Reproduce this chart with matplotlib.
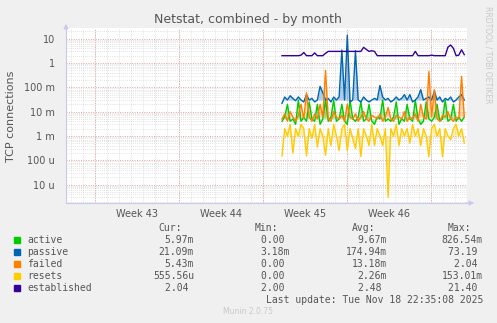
import numpy as np
import matplotlib
matplotlib.use("Agg")
import matplotlib.pyplot as plt
from matplotlib.patches import Rectangle

# munin month view: data only covers the last ~15 days
start_day = 18.0
step_day = 0.2267

established = [2.0, 2.0, 2.0, 2.0, 2.0, 2.0, 2.0, 2.1, 2.7, 2.0, 2.0, 2.0, 2.6, 2.0, 2.0, 2.0,
               2.5, 3.0, 3.0, 3.0, 3.0, 3.0, 3.0, 3.0, 3.0, 3.0, 3.0, 3.0, 3.0, 3.0, 4.4, 3.6,
               3.0, 3.2, 3.0, 2.0, 2.0, 2.0, 2.0, 2.0, 2.0, 2.0, 2.0, 2.0, 2.0, 2.0, 2.0, 2.0,
               2.0, 3.0, 2.0, 2.0, 2.0, 2.0, 2.0, 2.1, 2.0, 2.0, 2.0, 2.0, 2.0, 4.5, 5.5, 4.0,
               2.0, 2.1, 3.5, 2.2]
passive = [0.022, 0.04, 0.03, 0.045, 0.035, 0.028, 0.04, 0.03, 0.025, 0.05, 0.03, 0.035, 0.025,
           0.03, 0.11, 0.06, 0.03, 0.035, 0.025, 0.04, 0.03, 0.04, 3.4, 0.03, 14.0, 0.025, 0.03,
           3.2, 0.03, 0.025, 0.04, 0.03, 0.025, 0.03, 0.035, 0.03, 0.12, 0.04, 0.03, 0.035, 0.025,
           0.03, 0.04, 0.03, 0.035, 0.05, 0.03, 0.05, 0.025, 0.03, 0.04, 0.08, 0.03, 0.035, 0.04,
           0.03, 0.07, 0.03, 0.04, 0.025, 0.035, 0.03, 0.04, 0.025, 0.03, 0.04, 0.05, 0.03]
active = [0.004, 0.006, 0.02, 0.004, 0.005, 0.003, 0.03, 0.004, 0.006, 0.004, 0.025, 0.005,
          0.004, 0.02, 0.003, 0.005, 0.03, 0.004, 0.006, 0.03, 0.004, 0.005, 0.02, 0.004, 0.003,
          0.03, 0.005, 0.004, 0.006, 0.025, 0.004, 0.005, 0.02, 0.004, 0.003, 0.006, 0.005, 0.03,
          0.004, 0.005, 0.004, 0.006, 0.025, 0.003, 0.005, 0.004, 0.02, 0.005, 0.004, 0.03, 0.005,
          0.003, 0.004, 0.025, 0.005, 0.004, 0.006, 0.02, 0.004, 0.005, 0.03, 0.004, 0.005, 0.02,
          0.004, 0.006, 0.004, 0.006]
failed = [0.005, 0.008, 0.004, 0.01, 0.006, 0.004, 0.007, 0.02, 0.005, 0.06, 0.006, 0.004, 0.008,
          0.005, 0.02, 0.006, 0.5, 0.005, 0.004, 0.01, 0.006, 0.005, 0.007, 0.004, 0.02, 0.006,
          0.005, 0.008, 0.004, 0.006, 0.01, 0.005, 0.004, 0.007, 0.006, 0.005, 0.008, 0.004, 0.006,
          0.015, 0.005, 0.004, 0.007, 0.006, 0.005, 0.01, 0.004, 0.006, 0.005, 0.008, 0.004, 0.02,
          0.006, 0.005, 0.45, 0.006, 0.08, 0.005, 0.004, 0.007, 0.006, 0.01, 0.005, 0.004, 0.006,
          0.005, 0.28, 0.006]
resets = [1.5e-4, 0.002, 0.001, 0.003, 2e-4, 0.002, 0.001, 0.003, 0.002, 1.5e-4, 0.002, 0.0008,
          0.003, 3.5e-4, 0.002, 0.001, 1.6e-4, 0.002, 4e-4, 0.003, 0.001, 2.5e-4, 0.002, 0.003,
          2.5e-4, 0.002, 0.0008, 3e-4, 0.002, 1.4e-4, 0.002, 0.001, 4e-4, 0.003, 4e-4, 0.002, 0.001,
          4e-4, 0.002, 3e-6, 0.002, 0.001, 0.003, 4e-4, 0.002, 0.001, 0.002, 5e-4, 0.003, 0.001,
          0.002, 4e-4, 0.002, 0.001, 1.4e-4, 0.002, 0.003, 0.001, 0.002, 1.4e-4, 0.002, 0.001,
          7e-4, 0.002, 0.003, 0.001, 0.002, 5e-4]

names = ["active", "passive", "failed", "resets", "established"]
colors = ["#00CC00", "#0066B3", "#FF8000", "#FFCC00", "#330099"]
cur = ["5.97m", "21.09m", "5.43m", "555.56u", "2.04 "]
mins = ["0.00 ", "3.18m", "0.00 ", "0.00 ", "2.00 "]
avgs = ["9.67m", "174.94m", "13.18m", "2.26m", "2.48 "]
maxs = ["826.54m", "73.19 ", "2.04 ", "153.01m", "21.40 "]

week_starts = [2.42, 9.42, 16.42, 23.42, 30.42]
week_labels = ["Week 43", "Week 44", "Week 45", "Week 46"]
ytick_vals = [10, 1, 0.1, 0.01, 0.001, 1e-4, 1e-5]
ytick_labels = ["10", "1", "100 m", "10 m", "1 m", "100 u", "10 u"]

W, H = 497, 323
fig = plt.figure(figsize=(W / 100, H / 100), dpi=100, facecolor="#F0F0F0")
ax = fig.add_axes([66 / W, 1 - 203 / H, 401 / W, 175 / H])
ax.set_facecolor("white")

series = [active, passive, failed, resets, established]
x = start_day + step_day * np.arange(len(active))
for vals, c in zip(series, colors):
    v = np.array(vals)
    if c != colors[-1]:
        # light shading of spikes around the typical level, like the munin render
        ax.fill_between(x, v, np.median(v), color=c, alpha=0.3, lw=0)
    ax.plot(x, v, color=c, lw=1.0)

ax.set_yscale("log")
ax.set_ylim(1.74e-6, 27.5)
ax.set_xlim(0, 401 / 12)

# grid: grey dotted for days / minor decades, red dotted for weeks / decades
for d in np.arange(0.42, 33.4, 1.0):
    ax.axvline(d, color="#d8d8d8", lw=0.6, ls=(0, (1, 1.5)), zorder=0)
for d in week_starts:
    ax.axvline(d, color="#e8a0a0", lw=0.7, ls=(0, (1, 1.5)), zorder=0)
for e in range(-6, 2):
    for m in range(2, 10):
        ax.axhline(m * 10.0 ** e, color="#d8d8d8", lw=0.6, ls=(0, (1, 1.5)), zorder=0)
    ax.axhline(10.0 ** e, color="#e8a0a0", lw=0.7, ls=(0, (1, 1.5)), zorder=0)

ax.set_yticks(ytick_vals)
ax.set_yticklabels(ytick_labels)
ax.yaxis.set_minor_locator(matplotlib.ticker.NullLocator())
ax.set_xticks([w + 3.5 for w in week_starts[:4]])
ax.set_xticklabels(week_labels)
ax.tick_params(axis="both", length=0, labelsize=7, colors="#555555", pad=4)
ax.tick_params(axis="y", pad=8)

for s in ["top", "right"]:
    ax.spines[s].set_visible(False)
ax.spines["left"].set_color("#c8c8f0")
ax.spines["bottom"].set_color("#c8c8f0")

# axis arrows
ax.annotate("", xy=(0, 1.04), xytext=(0, 0.98), xycoords="axes fraction",
            arrowprops=dict(arrowstyle="-|>", color="#c8c8f0", lw=0.8, mutation_scale=7))
ax.annotate("", xy=(1.025, 0), xytext=(0.99, 0), xycoords="axes fraction",
            arrowprops=dict(arrowstyle="-|>", color="#c8c8f0", lw=0.8, mutation_scale=7))

fig.text(248 / W, 1 - 19 / H, "Netstat, combined - by month", ha="center", va="center",
         fontsize=9, color="#555555")
fig.text(11 / W, 1 - 116 / H, "TCP connections", rotation=90, ha="center", va="center",
         fontsize=8, color="#555555")
fig.text(488 / W, 1 - 55 / H, "RRDTOOL / TOBI OETIKER", rotation=270, ha="center", va="center",
         fontsize=5.5, color="#c8c8c8")

mono = dict(family="DejaVu Sans Mono", fontsize=7, color="#555555", va="center")
header_y = 228
fig.text(182 / W, 1 - header_y / H, "Cur:", ha="right", **mono)
fig.text(278 / W, 1 - header_y / H, "Min:", ha="right", **mono)
fig.text(375 / W, 1 - header_y / H, "Avg:", ha="right", **mono)
fig.text(471 / W, 1 - header_y / H, "Max:", ha="right", **mono)
for i, name in enumerate(names):
    yy = 240 + 12 * i
    fig.patches.append(Rectangle((14 / W, 1 - (yy + 3) / H), 6 / W, 6 / H,
                                 transform=fig.transFigure, color=colors[i]))
    fig.text(27 / W, 1 - yy / H, name, ha="left", **mono)
    fig.text(194 / W, 1 - yy / H, cur[i], ha="right", **mono)
    fig.text(290 / W, 1 - yy / H, mins[i], ha="right", **mono)
    fig.text(387 / W, 1 - yy / H, avgs[i], ha="right", **mono)
    fig.text(483 / W, 1 - yy / H, maxs[i], ha="right", **mono)
fig.text(483 / W, 1 - 300 / H, "Last update: Tue Nov 18 22:35:08 2025", ha="right", **mono)
fig.text(248 / W, 1 - 312 / H, "Munin 2.0.75", ha="center", va="center", fontsize=5.5,
         color="#c8c8c8")

fig.savefig("out.png", dpi=100, facecolor=fig.get_facecolor())
